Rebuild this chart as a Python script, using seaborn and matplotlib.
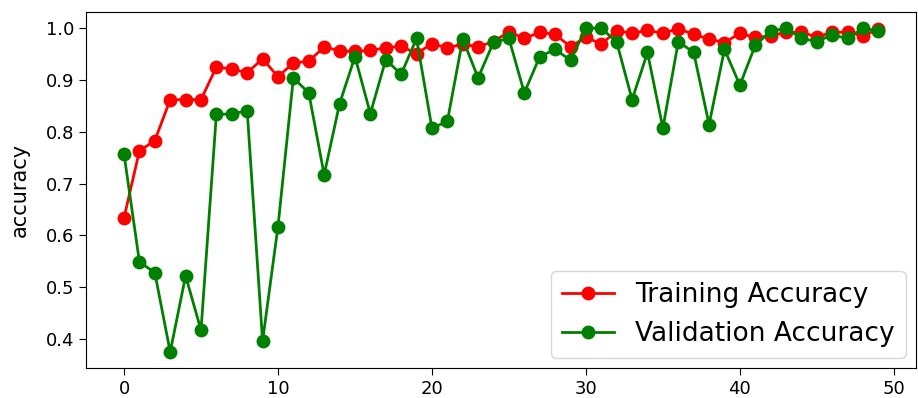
import numpy as np
import pandas as pd
import matplotlib
matplotlib.use("Agg")
import matplotlib.pyplot as plt
import seaborn as sns

epochs = list(range(50))
train_acc = [0.634, 0.763, 0.783, 0.862, 0.862, 0.862, 0.925, 0.921, 0.914, 0.941,
             0.906, 0.933, 0.936, 0.964, 0.956, 0.955, 0.957, 0.962, 0.965, 0.951,
             0.970, 0.962, 0.969, 0.964, 0.974, 0.993, 0.980, 0.992, 0.988, 0.964,
             0.983, 0.969, 0.995, 0.990, 0.996, 0.990, 0.999, 0.988, 0.979, 0.972,
             0.990, 0.982, 0.985, 0.992, 0.992, 0.983, 0.992, 0.992, 0.985, 0.998]
val_acc = [0.757, 0.549, 0.528, 0.375, 0.522, 0.417, 0.834, 0.834, 0.841, 0.396,
           0.617, 0.904, 0.875, 0.717, 0.854, 0.945, 0.835, 0.939, 0.911, 0.980,
           0.807, 0.820, 0.979, 0.904, 0.973, 0.980, 0.875, 0.945, 0.959, 0.938,
           1.000, 1.000, 0.973, 0.862, 0.953, 0.807, 0.974, 0.953, 0.814, 0.959,
           0.890, 0.967, 0.994, 1.000, 0.980, 0.974, 0.987, 0.980, 1.000, 0.994]

df = pd.DataFrame({"epoch": epochs, "train": train_acc, "val": val_acc})

fig, ax = plt.subplots(figsize=(9.18, 3.98), dpi=100)
sns.lineplot(data=df, x="epoch", y="train", ax=ax, color="red", marker="o",
             markersize=10, markeredgewidth=0, linewidth=2, label="Training Accuracy")
sns.lineplot(data=df, x="epoch", y="val", ax=ax, color="green", marker="o",
             markersize=10, markeredgewidth=0, linewidth=2, label="Validation Accuracy")

ax.set_xlabel("")
ax.set_ylabel("accuracy", fontsize=15, labelpad=12)
ax.set_xticks([0, 10, 20, 30, 40, 50])
ax.set_yticks([0.4, 0.5, 0.6, 0.7, 0.8, 0.9, 1.0])
ax.tick_params(labelsize=13, length=5)
ax.legend(loc="lower right", fontsize=19, borderaxespad=0.4)

fig.subplots_adjust(left=0.094, right=0.998, top=0.970, bottom=0.075)
fig.savefig("out.png", dpi=100)
